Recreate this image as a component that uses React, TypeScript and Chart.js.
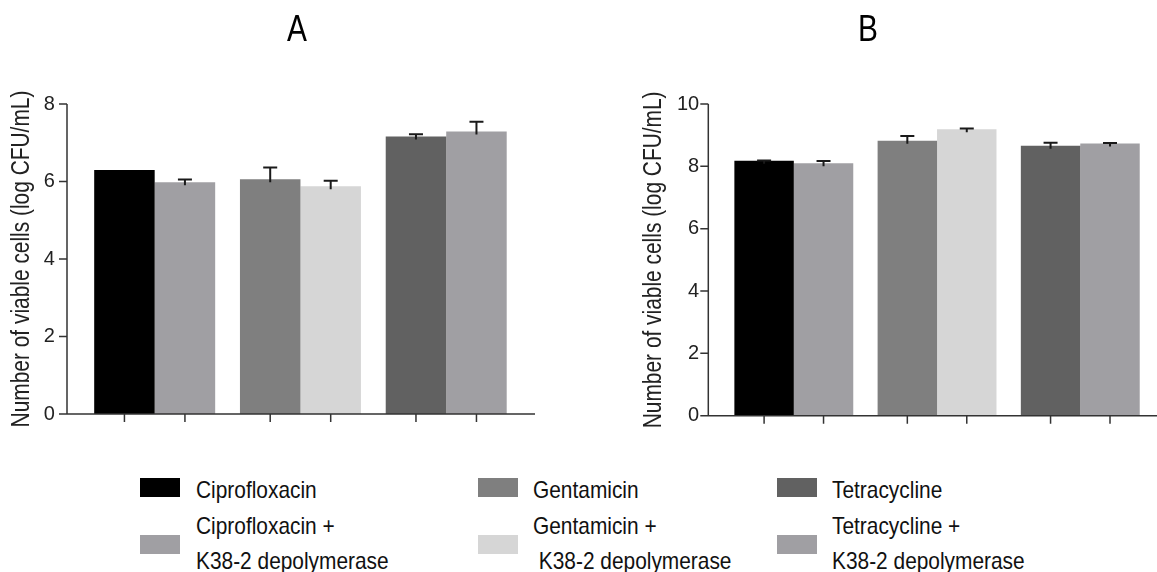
import React, { useEffect, useRef } from "react";
import { Chart, registerables } from "chart.js";

Chart.register(...registerables);

// ---------- data ----------
const categories = ["Ciprofloxacin", "Gentamicin", "Tetracycline"];
const seriesLabels = [
  "Ciprofloxacin",
  "Ciprofloxacin + K38-2 depolymerase",
  "Gentamicin",
  "Gentamicin + K38-2 depolymerase",
  "Tetracycline",
  "Tetracycline + K38-2 depolymerase",
];
const seriesGroup = [0, 0, 1, 1, 2, 2];
const seriesColors = ["#000000", "#a09fa3", "#7f7f7f", "#d6d6d6", "#616161", "#a09fa3"];

const meansA = [6.3, 5.98, 6.06, 5.88, 7.16, 7.29];
const sdA = [0, 0.07, 0.3, 0.14, 0.06, 0.25];
const meansB = [8.18, 8.1, 8.82, 9.19, 8.66, 8.73];
const sdB = [0.01, 0.07, 0.15, 0.02, 0.1, 0.02];

const yTitle = "Number of viable cells (log CFU/mL)";
const panelTitles = ["A", "B"];

const legendLines = [
  ["Ciprofloxacin"],
  ["Ciprofloxacin +", "K38-2 depolymerase"],
  ["Gentamicin"],
  ["Gentamicin +", " K38-2 depolymerase"],
  ["Tetracycline"],
  ["Tetracycline +", "K38-2 depolymerase"],
];

const FONT = '"Liberation Sans", Arial, sans-serif';

const axesPlugin = {
  id: "customAxes",
  afterDatasetsDraw(chart: any, _args: any, opts: any) {
    const { ctx, chartArea, scales } = chart;
    const ys = scales.y;
    const yx = chartArea.left - opts.gap;
    const y0 = ys.getPixelForValue(0);
    const yTop = ys.getPixelForValue(ys.max);
    ctx.save();
    // error bars
    ctx.strokeStyle = "#1a1a1a";
    ctx.lineWidth = 2;
    chart.data.datasets.forEach((ds: any, di: number) => {
      const meta = chart.getDatasetMeta(di);
      meta.data.forEach((bar: any, i: number) => {
        const v = ds.data[i];
        if (v == null) return;
        const e = ds.errors[i];
        if (!e) return;
        const top = ys.getPixelForValue(v + e);
        const base = ys.getPixelForValue(v);
        ctx.beginPath();
        ctx.moveTo(bar.x, top);
        ctx.lineTo(bar.x, base + 3);
        ctx.moveTo(bar.x - 7, top);
        ctx.lineTo(bar.x + 7, top);
        ctx.stroke();
      });
    });
    // axes
    ctx.strokeStyle = "#333333";
    ctx.lineWidth = 1.5;
    ctx.beginPath();
    ctx.moveTo(yx, yTop);
    ctx.lineTo(yx, y0);
    ys.ticks.forEach((t: any) => {
      const p = ys.getPixelForValue(t.value);
      ctx.moveTo(yx - 8, p);
      ctx.lineTo(yx, p);
    });
    ctx.moveTo(yx - 8, y0);
    ctx.lineTo(opts.xEnd, y0);
    chart.data.datasets.forEach((ds: any, di: number) => {
      const meta = chart.getDatasetMeta(di);
      meta.data.forEach((bar: any, i: number) => {
        if (ds.data[i] == null) return;
        ctx.moveTo(bar.x, y0);
        ctx.lineTo(bar.x, y0 + 8);
      });
    });
    ctx.stroke();
    // condensed y-axis title
    ctx.save();
    ctx.translate(chartArea.left - opts.titleOffset, (chartArea.top + chartArea.bottom) / 2);
    ctx.rotate(-Math.PI / 2);
    ctx.scale(opts.titleSqueeze, 1);
    ctx.font = `${opts.titleSize}px ${FONT}`;
    ctx.fillStyle = "#222";
    ctx.textAlign = "center";
    ctx.textBaseline = "middle";
    ctx.fillText(opts.title, 0, 0);
    ctx.restore();
    ctx.restore();
  },
};

type PanelProps = {
  means: number[];
  sds: number[];
  yMax: number;
  left: number;
  width: number;
  height: number;
  areaLeft: number;
  areaRight: number;
  areaTop: number;
  areaBottom: number;
  gap: number;
  xEnd: number;
  tickPad: number;
  titleOffset: number;
};

function BarPanel(p: PanelProps) {
  const ref = useRef<HTMLCanvasElement>(null);
  useEffect(() => {
    if (!ref.current) return;
    const datasets = seriesLabels.map((label, si) => ({
      label,
      data: categories.map((_, g) => (g === seriesGroup[si] ? p.means[si] : null)),
      errors: categories.map((_, g) => (g === seriesGroup[si] ? p.sds[si] : 0)),
      backgroundColor: seriesColors[si],
      borderWidth: 0,
      skipNull: true,
      barPercentage: 1,
      categoryPercentage: 0.83,
    }));
    const chart = new Chart(ref.current, {
      type: "bar",
      data: { labels: categories, datasets: datasets as any },
      options: {
        responsive: false,
        animation: false,
        events: [],
        layout: {
          padding: {
            top: p.areaTop,
            left: 0,
            right: p.width - (p.areaRight - p.left),
            bottom: p.height - p.areaBottom,
          },
        },
        plugins: {
          legend: { display: false },
          tooltip: { enabled: false },
          customAxes: {
            gap: p.gap,
            xEnd: p.xEnd,
            title: yTitle,
            titleOffset: p.titleOffset,
            titleSize: 25,
            titleSqueeze: 0.836,
          },
        } as any,
        scales: {
          x: { display: false },
          y: {
            min: 0,
            max: p.yMax,
            ticks: {
              stepSize: 2,
              padding: p.tickPad,
              color: "#222",
              font: { family: FONT, size: 20 },
            },
            grid: { display: false, drawTicks: false },
            border: { display: false },
            afterFit(s: any) {
              s.width = p.areaLeft - p.left;
            },
          },
        },
      },
      plugins: [axesPlugin],
    });
    return () => chart.destroy();
  }, []);
  return (
    <canvas
      ref={ref}
      width={p.width}
      height={p.height}
      style={{ position: "absolute", left: p.left, top: 0, width: p.width, height: p.height }}
    />
  );
}

const legendCols = [
  { sx: 140, tx: 196 },
  { sx: 478, tx: 533 },
  { sx: 777, tx: 832 },
];

export default function App() {
  return (
    <div
      style={{
        position: "absolute",
        left: 0,
        top: 0,
        width: 1157,
        height: 572,
        background: "#fff",
        overflow: "hidden",
        fontFamily: FONT,
      }}
    >
      <BarPanel
        means={meansA}
        sds={sdA}
        yMax={8}
        left={0}
        width={580}
        height={460}
        areaLeft={81.8}
        areaRight={519.1}
        areaTop={104}
        areaBottom={414}
        gap={14.8}
        xEnd={535}
        tickPad={27}
        titleOffset={59.5}
      />
      <BarPanel
        means={meansB}
        sds={sdB}
        yMax={10}
        left={632}
        width={525}
        height={460}
        areaLeft={722.2}
        areaRight={1151.9}
        areaTop={104}
        areaBottom={415.7}
        gap={13.9}
        xEnd={525}
        tickPad={23}
        titleOffset={68.5}
      />
      {panelTitles.map((t, i) => (
        <div
          key={t}
          style={{
            position: "absolute",
            left: i === 0 ? 257 : 828,
            width: 80,
            top: 10.5,
            textAlign: "center",
            fontSize: 36,
            lineHeight: "36px",
            color: "#000",
            transform: "scaleX(0.83)",
          }}
        >
          {t}
        </div>
      ))}
      {legendLines.map((lines, i) => {
        const col = legendCols[Math.floor(i / 2)];
        const row = i % 2;
        return (
          <React.Fragment key={i}>
            <div
              style={{
                position: "absolute",
                left: col.sx,
                top: row === 0 ? 478 : 535,
                width: 40,
                height: 18.5,
                background: seriesColors[i],
              }}
            />
            <div
              style={{
                position: "absolute",
                left: col.tx,
                top: row === 0 ? 471.5 : 507.5,
                fontSize: 24,
                lineHeight: "35px",
                whiteSpace: "pre",
                color: "#111",
                transform: "scaleX(0.87)",
                transformOrigin: "0 0",
              }}
            >
              {lines.join("\n")}
            </div>
          </React.Fragment>
        );
      })}
    </div>
  );
}
